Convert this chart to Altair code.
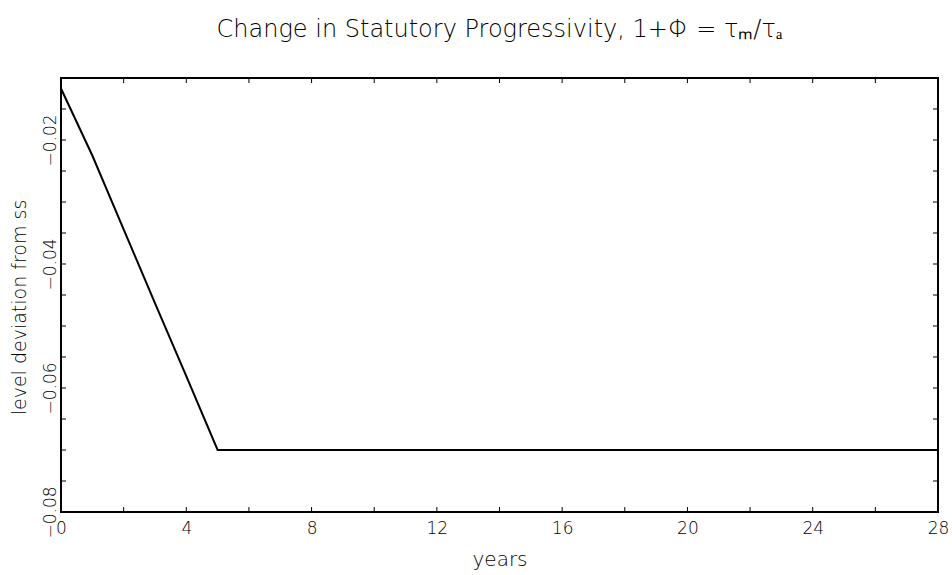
import altair as alt
import pandas as pd

# ---- data ----
years = list(range(0, 29))
values = [-0.0117, -0.0225, -0.0344, -0.0463, -0.0581, -0.070,
          -0.070, -0.070, -0.070, -0.070, -0.070, -0.070, -0.070, -0.070,
          -0.070, -0.070, -0.070, -0.070, -0.070, -0.070, -0.070, -0.070,
          -0.070, -0.070, -0.070, -0.070, -0.070, -0.070, -0.070]

x_labels = [0, 4, 8, 12, 16, 20, 24, 28]
y_labels = [-0.08, -0.06, -0.04, -0.02]
x_ticks = [0, 2, 4, 6, 8, 10, 12, 14, 16, 18, 20, 22, 24, 26, 28]
y_ticks = [-0.08, -0.075, -0.07, -0.065, -0.06, -0.055, -0.05, -0.045,
           -0.04, -0.035, -0.03, -0.025, -0.02, -0.015, -0.01]

W, H = 877, 434
TL = 5
FONT = "DejaVu Sans"
INK = "#000000"
WT = 300

df = pd.DataFrame({"year": years, "value": values})
dfx = pd.DataFrame({"year": x_ticks})
dfy = pd.DataFrame({"value": y_ticks})

xscale = alt.Scale(domain=[0, 28], nice=False, zero=False)
yscale = alt.Scale(domain=[-0.08, -0.01], nice=False, zero=False)

xaxis = alt.Axis(
    values=x_labels, format="d", grid=False, ticks=False, domain=False,
    labelFont=FONT, labelFontSize=17, labelFontWeight=WT, labelColor=INK,
    labelPadding=8, labelBaseline="top", labelAlign="center",
    labelOverlap=False, labelBound=False, labelFlush=False,
    title="years", titleFont=FONT, titleFontSize=20, titleFontWeight=WT,
    titleColor=INK, titleBaseline="alphabetic", titleY=53, titleX=W / 2,
    titleAlign="center")
yaxis = alt.Axis(
    values=y_labels, format=".2f", grid=False, ticks=False, domain=False,
    labelFont=FONT, labelFontSize=17, labelFontWeight=WT, labelColor=INK,
    labelAngle=270, labelAlign="center", labelBaseline="bottom", labelPadding=2,
    labelOverlap=False, labelBound=False, labelFlush=False,
    title="level deviation from ss", titleFont=FONT, titleFontSize=19,
    titleFontWeight=WT, titleColor=INK, titleAngle=270,
    titleBaseline="alphabetic", titleAlign="center", titleX=-36, titleY=229)

line = alt.Chart(df).mark_line(color=INK, strokeWidth=2, clip=True).encode(
    x=alt.X("year:Q", scale=xscale, axis=xaxis),
    y=alt.Y("value:Q", scale=yscale, axis=yaxis),
)

tick_style = dict(color=INK, strokeWidth=1)

bottom = alt.Chart(dfx).mark_rule(**tick_style).encode(
    x=alt.X("year:Q", scale=xscale, axis=xaxis), y=alt.value(H), y2=alt.value(H - TL))
top = alt.Chart(dfx).mark_rule(**tick_style).encode(
    x=alt.X("year:Q", scale=xscale, axis=xaxis), y=alt.value(0), y2=alt.value(TL))
left = alt.Chart(dfy).mark_rule(**tick_style).encode(
    y=alt.Y("value:Q", scale=yscale, axis=yaxis), x=alt.value(0), x2=alt.value(TL))
right = alt.Chart(dfy).mark_rule(**tick_style).encode(
    y=alt.Y("value:Q", scale=yscale, axis=yaxis), x=alt.value(W), x2=alt.value(W - TL))

chart = alt.layer(line, bottom, top, left, right).properties(
    width=W, height=H,
    background="white",
    title=alt.TitleParams(
        text="Change in Statutory Progressivity, 1+\u03a6 = \u03c4\u2098/\u03c4\u2090",
        font=FONT, fontSize=24, fontWeight=WT, color=INK,
        anchor="middle", frame="group", baseline="alphabetic", offset=17),
    padding={"left": 61, "top": 78, "right": 14, "bottom": 63},
    autosize=alt.AutoSizeParams(type="none"),
).configure_view(stroke=INK, strokeWidth=2)

chart.save("out.html", embed_options={"renderer": "svg", "actions": False})
